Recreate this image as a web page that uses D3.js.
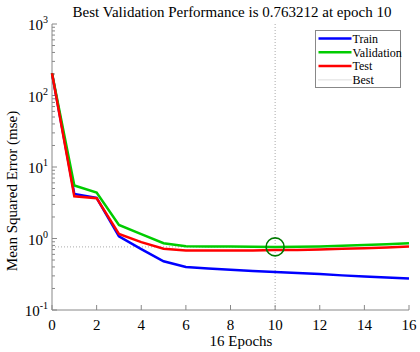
<!DOCTYPE html>
<html><head><meta charset="utf-8">
<script src="https://cdn.jsdelivr.net/npm/d3@7"></script>
<style>body{margin:0;background:#fff}svg{display:block}text{font-family:"Liberation Serif","Times New Roman",serif}</style>
</head><body><svg id="c" width="420" height="352"></svg>
<script>
const epochs = [0,1,2,3,4,5,6,7,8,9,10,11,12,13,14,15,16];
const train = [205,4.2,3.7,1.07,0.71,0.48,0.40,0.38,0.365,0.35,0.34,0.33,0.318,0.305,0.295,0.285,0.275];
const validation = [205,5.5,4.4,1.55,1.15,0.86,0.78,0.775,0.77,0.765,0.763212,0.765,0.775,0.79,0.81,0.83,0.86];
const test = [205,3.9,3.66,1.16,0.89,0.72,0.68,0.68,0.68,0.68,0.69,0.69,0.70,0.72,0.73,0.75,0.77];
const xTicks = [0,2,4,6,8,10,12,14,16];
const yExps = [-1,0,1,2,3];
const bestEpoch = 10, bestValue = 0.763212;
const seriesNames = ["Train","Validation","Test","Best"];
const seriesColors = ["#0000ff","#00cc00","#ff0000","#bbbbbb"];

const svg = d3.select("#c");
const L=52,R=409,T=24,B=310;
const x = d3.scaleLinear().domain([0,16]).range([L,R]);
const y = d3.scaleLog().domain([0.1,1000]).range([B,T]);
const axisCol="#888";

svg.append("line").attr("x1",x(bestEpoch)).attr("x2",x(bestEpoch)).attr("y1",T).attr("y2",B)
  .attr("stroke","#aaa").attr("stroke-width",1).attr("stroke-dasharray","1,2");
svg.append("line").attr("x1",L).attr("x2",x(bestEpoch)).attr("y1",y(bestValue)).attr("y2",y(bestValue))
  .attr("stroke","#aaa").attr("stroke-width",1).attr("stroke-dasharray","1,2");

const g = svg.append("g");
g.append("line").attr("x1",L).attr("x2",L).attr("y1",T).attr("y2",B).attr("stroke",axisCol);
g.append("line").attr("x1",L).attr("x2",R).attr("y1",B).attr("y2",B).attr("stroke",axisCol);
yExps.forEach(e=>{
  const v=Math.pow(10,e);
  g.append("line").attr("x1",L).attr("x2",L+5).attr("y1",y(v)).attr("y2",y(v)).attr("stroke",axisCol);
  if(e<3) for(let k=2;k<=9;k++){
    const vv=k*v;
    g.append("line").attr("x1",L).attr("x2",L+3).attr("y1",y(vv)).attr("y2",y(vv)).attr("stroke",axisCol);
  }
  const t=g.append("text").attr("x",L-4).attr("y",y(v)+6).attr("text-anchor","end").attr("font-size",15).attr("fill","#000");
  t.append("tspan").text("10");
  t.append("tspan").attr("dy",-7).attr("font-size",10).text(e);
});
xTicks.forEach(v=>{
  g.append("line").attr("x1",x(v)).attr("x2",x(v)).attr("y1",B).attr("y2",B-5).attr("stroke",axisCol);
  g.append("text").attr("x",x(v)).attr("y",B+20).attr("text-anchor","middle").attr("font-size",15).text(v);
});

const line = d3.line().x((d,i)=>x(epochs[i])).y(d=>y(d));
[[train,0],[validation,1],[test,2]].forEach(([d,i])=>{
  svg.append("path").datum(d).attr("d",line).attr("fill","none").attr("stroke",seriesColors[i]).attr("stroke-width",2.5);
});
svg.append("circle").attr("cx",x(bestEpoch)).attr("cy",y(bestValue)).attr("r",9)
  .attr("fill","none").attr("stroke","#007a00").attr("stroke-width",1.6);

svg.append("text").attr("x",232).attr("y",17).attr("text-anchor","middle").attr("font-size",15)
  .text(`Best Validation Performance is ${bestValue} at epoch ${bestEpoch}`);
svg.append("text").attr("x",241).attr("y",346).attr("text-anchor","middle").attr("font-size",15).text("16 Epochs");
svg.append("text").attr("transform","translate(17,191) rotate(-90)").attr("text-anchor","middle").attr("font-size",15).text("Mean Squared Error (mse)");

const lg = svg.append("g").attr("transform","translate(315.5,30.5)");
lg.append("rect").attr("width",85).attr("height",57).attr("fill","#fff").attr("stroke","#888");
seriesNames.forEach((n,i)=>{
  const yy=8+i*13.8;
  lg.append("line").attr("x1",3).attr("x2",36).attr("y1",yy).attr("y2",yy)
    .attr("stroke",seriesColors[i]).attr("stroke-width",i<3?2.5:1).attr("stroke-dasharray",i<3?null:"1,1");
  lg.append("text").attr("x",37).attr("y",yy+4.2).attr("font-size",12).text(n);
});
</script></body></html>
